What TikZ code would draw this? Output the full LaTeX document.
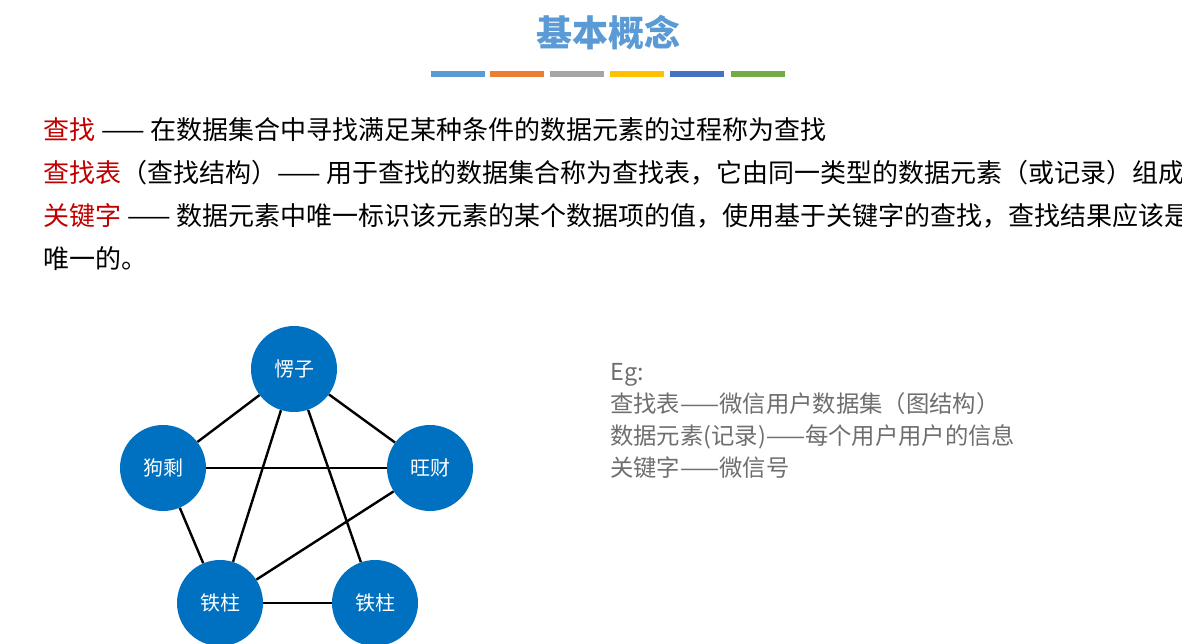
\documentclass[tikz,border=0pt]{standalone}
\usepackage{fontspec}
\setmainfont{Noto Sans CJK SC}
\newfontfamily\cjk{Noto Sans CJK SC}
\definecolor{ttl}{RGB}{91,155,213}
\definecolor{cA}{RGB}{91,155,213}
\definecolor{cB}{RGB}{237,125,49}
\definecolor{cC}{RGB}{165,165,165}
\definecolor{cD}{RGB}{255,192,0}
\definecolor{cE}{RGB}{68,114,196}
\definecolor{cF}{RGB}{112,173,71}
\definecolor{kred}{RGB}{192,0,0}
\definecolor{nodeblue}{RGB}{0,112,192}
\definecolor{eg}{RGB}{110,110,110}
\begin{document}
\begin{tikzpicture}[x=0.75pt,y=-0.75pt,
  gnode/.style={circle,fill=nodeblue,minimum size=64.5pt,inner sep=0pt,text=white,font=\cjk\fontsize{15pt}{18pt}\selectfont},
  line/.style={text=black,anchor=base west,inner sep=0pt,font=\cjk\fontsize{19.5pt}{23pt}\selectfont},
  egline/.style={text=eg,anchor=base west,inner sep=0pt,font=\cjk\fontsize{17.5pt}{21pt}\selectfont},
  edge/.style={line width=1.8pt,black}]
\useasboundingbox (0,0) rectangle (1182,643);
\node[text=ttl,font=\cjk\bfseries\fontsize{27pt}{32pt}\selectfont] (title) at (608,33) {基本概念};
\foreach \c/\a in {cA/431,cB/490,cC/550,cD/610,cE/670,cF/731}
  \fill[\c] (\a,71) rectangle ++(54,6);
\node[line] (l1) at (43,139) {\textcolor{kred}{查找} —— 在数据集合中寻找满足某种条件的数据元素的过程称为查找};
\node[line] (l2) at (43,182) {\textcolor{kred}{查找表}（查找结构）—— 用于查找的数据集合称为查找表，它由同一类型的数据元素（或记录）组成};
\node[line] (l3) at (43,225) {\textcolor{kred}{关键字} —— 数据元素中唯一标识该元素的某个数据项的值，使用基于关键字的查找，查找结果应该是};
\node[line] (l4) at (43,268) {唯一的。};
\node[gnode] (a) at (294,369) {愣子};
\node[gnode] (b) at (163,468) {狗剩};
\node[gnode] (c) at (430,468) {旺财};
\node[gnode] (d) at (220,603) {铁柱};
\node[gnode] (e) at (375,603) {铁柱};
\draw[edge] (a) -- (b); \draw[edge] (a) -- (c); \draw[edge] (a) -- (d);
\draw[edge] (a) -- (e); \draw[edge] (b) -- (c); \draw[edge] (b) -- (d);
\draw[edge] (c) -- (d); \draw[edge] (d) -- (e);
\node[egline] (e1) at (610,380) {Eg:};
\node[egline] (e2) at (610,412) {查找表——微信用户数据集（图结构）};
\node[egline] (e3) at (610,444) {数据元素(记录)——每个用户用户的信息};
\node[egline] (e4) at (610,476) {关键字——微信号};
\end{tikzpicture}
\end{document}
